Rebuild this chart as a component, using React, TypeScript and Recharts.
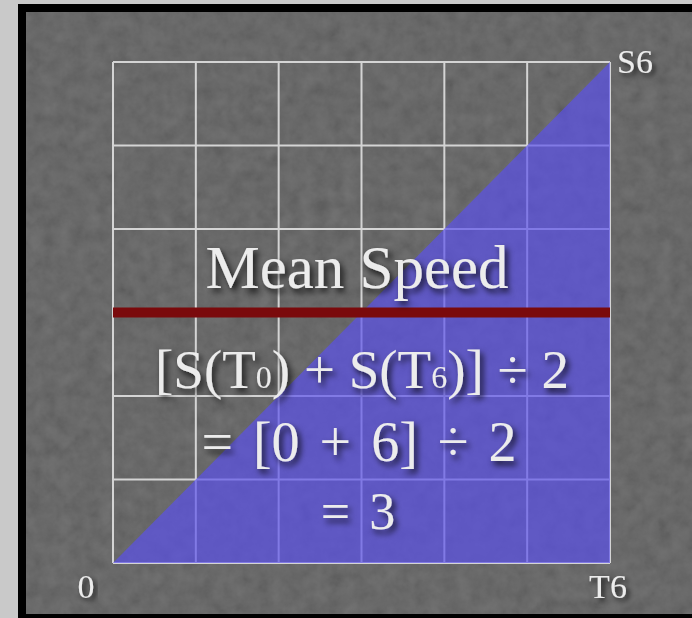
import React from "react";
import { ComposedChart, Area, Line, XAxis, YAxis, CartesianGrid } from "recharts";

const times = [0, 1, 2, 3, 4, 5, 6];
const speeds = [0, 1, 2, 3, 4, 5, 6];
const meanSpeeds = [3, 3, 3, 3, 3, 3, 3];
const xTickLabels = ["0", "", "", "", "", "", "T6"];
const yTickLabels = ["", "", "", "", "", "", "S6"];
const titleText = "Mean Speed";
const formulaSub = ["0", "6"];
const line3Text = "= [0 + 6] ÷ 2";
const line4Text = "= 3";

const data = times.map((t, i) => ({ t, speed: speeds[i], mean: meanSpeeds[i] }));

const FONT = "'Liberation Serif', 'DejaVu Serif', serif";
const TXT = "#ececec";

const XTick = (props: any) => {
  const { x, y, index } = props;
  const label = xTickLabels[index];
  if (!label) return null;
  const dx = index === 0 ? -27 : -2;
  return (
    <text x={x + dx} y={y} dy={35} textAnchor="middle" fontFamily={FONT} fontSize={34} fill={TXT} filter="url(#tshadow)">
      {label}
    </text>
  );
};

const YTick = (props: any) => {
  const { x, y, index } = props;
  const label = yTickLabels[index];
  if (!label) return null;
  return (
    <text x={x + 7} y={y} dy={11} textAnchor="start" fontFamily={FONT} fontSize={34} fill={TXT} filter="url(#tshadow)">
      {label}
    </text>
  );
};

export default function App() {
  return (
    <div style={{ position: "absolute", left: 0, top: 0, width: 692, height: 618, background: "#c9c9c9", overflow: "hidden" }}>
      <div style={{ position: "absolute", left: 18, top: 4, width: 674, height: 614, background: "#000" }} />
      <svg width={692} height={618} style={{ position: "absolute", left: 0, top: 0 }}>
        <defs>
          <filter id="bgnoise" x="0" y="0" width="100%" height="100%">
            <feTurbulence type="fractalNoise" baseFrequency="0.07" numOctaves={5} seed={11} />
            <feColorMatrix type="matrix" values="0.33 0.33 0.33 0 0  0.33 0.33 0.33 0 0  0.33 0.33 0.33 0 0  0 0 0 0 1" />
          </filter>
        </defs>
        <rect x={26} y={12} width={666} height={602} fill="#525252" />
        <rect x={26} y={12} width={666} height={602} filter="url(#bgnoise)" opacity={0.22} />
      </svg>
      <div style={{ position: "absolute", left: 0, top: 0 }}>
        <ComposedChart width={692} height={618} data={data} margin={{ top: 62, right: 0, bottom: 0, left: 113 }}>
          <defs>
            <filter id="tshadow" x="-20%" y="-20%" width="140%" height="160%">
              <feDropShadow dx="3" dy="3" stdDeviation="2.5" floodColor="#000" floodOpacity="0.75" />
            </filter>
          </defs>
          <CartesianGrid stroke="#d4d4d4" strokeWidth={2} />
          <XAxis
            type="number"
            dataKey="t"
            domain={[0, 6]}
            ticks={times}
            height={55}
            axisLine={false}
            tickLine={false}
            tickSize={0}
            tickMargin={0}
            tick={<XTick />}
            interval={0}
          />
          <YAxis
            orientation="right"
            type="number"
            domain={[0, 6]}
            ticks={speeds}
            width={82}
            axisLine={false}
            tickLine={false}
            tickSize={0}
            tickMargin={0}
            tick={<YTick />}
            interval={0}
          />
          <Area type="linear" dataKey="speed" stroke="none" fill="#5a50ee" fillOpacity={0.68} isAnimationActive={false} />
          <Line type="linear" dataKey="mean" stroke="#7a0a0c" strokeWidth={10} dot={false} activeDot={false} isAnimationActive={false} />
        </ComposedChart>
      </div>
      <svg width={692} height={618} style={{ position: "absolute", left: 0, top: 0, pointerEvents: "none" }}>
        <defs>
          <filter id="tshadow2" x="-20%" y="-30%" width="140%" height="160%">
            <feDropShadow dx="3" dy="4" stdDeviation="3" floodColor="#000" floodOpacity="0.8" />
          </filter>
        </defs>
        <g fontFamily={FONT} fill={TXT} textAnchor="middle" filter="url(#tshadow2)">
          <text x={357} y={288} fontSize={61}>{titleText}</text>
          <text x={362} y={388} fontSize={55} style={{ whiteSpace: "pre" }}>
            [S(T<tspan fontSize={32}>{formulaSub[0]}</tspan>) + S(T<tspan fontSize={32}>{formulaSub[1]}</tspan>)] ÷ 2
          </text>
          <text x={359} y={461} fontSize={56} wordSpacing={6} style={{ whiteSpace: "pre" }}>{line3Text}</text>
          <text x={358} y={529} fontSize={52} wordSpacing={6}>{line4Text}</text>
        </g>
      </svg>
    </div>
  );
}
